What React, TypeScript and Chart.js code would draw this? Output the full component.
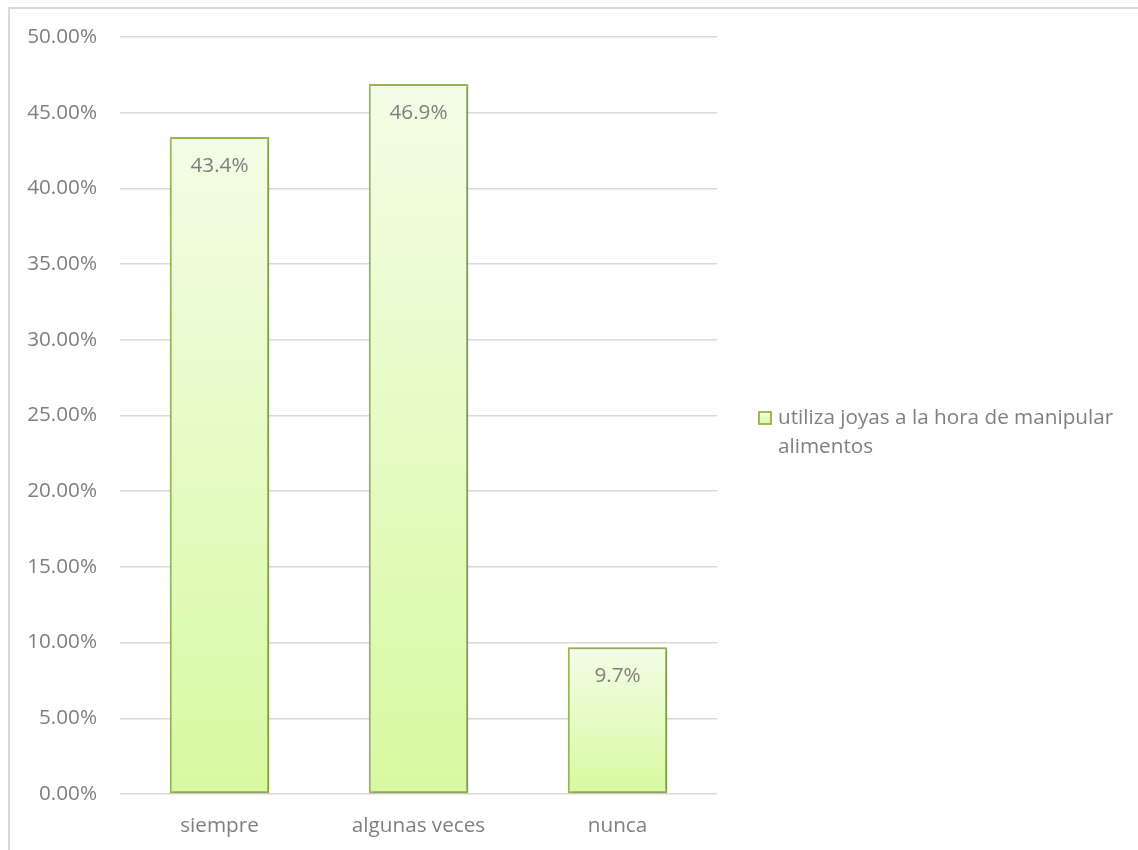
import React, { useEffect, useRef } from "react";
import { Chart, registerables } from "chart.js";

Chart.register(...registerables);

const categories = ["siempre", "algunas veces", "nunca"];
const seriesName = "utiliza joyas a la hora de manipular alimentos";
const legendLines = ["utiliza joyas a la hora de manipular", "alimentos"];
const values = [0.434, 0.469, 0.097];
const yTicks = [0, 0.05, 0.1, 0.15, 0.2, 0.25, 0.3, 0.35, 0.4, 0.45, 0.5];

const FONT = "'Open Sans'";
const FSIZE = 20.7;
const TEXT = "#7f7f7f";
const GRID = "#d9d9d9";
const BAR_BORDER = "#9bbb59";
const TOP_FILL = "#f3fde6";
const BOTTOM_FILL = "#d8f9a0";

export default function App() {
  const ref = useRef<HTMLCanvasElement | null>(null);

  useEffect(() => {
    if (!ref.current) return;
    const extras = {
      id: "extras",
      beforeDraw(chart: any) {
        const ctx = chart.ctx;
        ctx.save();
        ctx.fillStyle = GRID;
        ctx.fillRect(0, 0, chart.width, 2);
        ctx.fillRect(0, 0, 2, chart.height);
        ctx.restore();
      },
      beforeDatasetsDraw(chart: any) {
        const ctx = chart.ctx;
        ctx.save();
        ctx.shadowColor = "rgba(0,0,0,0.28)";
        ctx.shadowBlur = 4;
        ctx.shadowOffsetX = 1.5;
        ctx.shadowOffsetY = 1;
      },
      afterDatasetsDraw(chart: any) {
        const ctx = chart.ctx;
        ctx.restore();
        ctx.save();
        ctx.fillStyle = TEXT;
        ctx.font = `${FSIZE}px ${FONT}`;
        ctx.textAlign = "center";
        ctx.textBaseline = "middle";
        const meta = chart.getDatasetMeta(0);
        meta.data.forEach((el: any, i: number) => {
          const v = values[i];
          ctx.fillText((v * 100).toFixed(1) + "%", el.x, el.y + 29);
        });
        // legend
        const lx = 750;
        const ly = 404;
        const grad = ctx.createLinearGradient(0, ly, 0, ly + 14);
        grad.addColorStop(0, TOP_FILL);
        grad.addColorStop(1, BOTTOM_FILL);
        ctx.fillStyle = grad;
        ctx.fillRect(lx, ly, 14, 14);
        ctx.strokeStyle = BAR_BORDER;
        ctx.lineWidth = 2;
        ctx.strokeRect(lx + 1, ly + 1, 12, 12);
        ctx.fillStyle = TEXT;
        ctx.textAlign = "left";
        legendLines.forEach((line, k) => {
          ctx.fillText(line, 770, 411 + k * 29);
        });
        ctx.restore();
      },
    };

    const chart = new Chart(ref.current, {
      type: "bar",
      data: {
        labels: categories,
        datasets: [
          {
            label: seriesName,
            data: values,
            borderColor: BAR_BORDER,
            borderWidth: 2,
            borderSkipped: false,
            backgroundColor: (c: any) => {
              const ch = c.chart;
              if (!ch.chartArea || !ch.scales.y || c.raw == null) return BOTTOM_FILL;
              const y0 = ch.scales.y.getPixelForValue(c.raw);
              const y1 = ch.scales.y.getPixelForValue(0);
              const g = ch.ctx.createLinearGradient(0, y0, 0, y1);
              g.addColorStop(0, TOP_FILL);
              g.addColorStop(1, BOTTOM_FILL);
              return g;
            },
            barPercentage: 0.5,
            categoryPercentage: 1,
          },
        ],
      },
      options: {
        animation: false,
        responsive: false,
        layout: { padding: { left: 0, right: 421, top: 30, bottom: 0 } },
        plugins: { legend: { display: false }, tooltip: { enabled: false } },
        scales: {
          x: {
            grid: { display: false, drawTicks: false },
            border: { display: false },
            ticks: {
              color: TEXT,
              font: { family: FONT, size: FSIZE },
              padding: 20,
            },
            afterFit(s: any) {
              s.height = 56;
              s.paddingLeft = 0;
              s.paddingRight = 0;
            },
          },
          y: {
            min: 0,
            max: 0.5,
            afterBuildTicks(s: any) {
              s.ticks = yTicks.map((v) => ({ value: v }));
            },
            grid: { color: GRID, lineWidth: 1.5, drawTicks: false },
            border: { display: false },
            ticks: {
              color: TEXT,
              font: { family: FONT, size: FSIZE },
              padding: 23,
              callback: (v: any) => (Number(v) * 100).toFixed(2) + "%",
            },
            afterFit(s: any) {
              s.width = 112;
              s.paddingTop = 0;
              s.paddingBottom = 0;
            },
          },
        },
      },
      plugins: [extras],
    } as any);
    return () => chart.destroy();
  }, []);

  return (
    <div style={{ position: "absolute", left: 8, top: 7 }}>
      <canvas ref={ref} width={1130} height={843} style={{ display: "block" }} />
    </div>
  );
}
